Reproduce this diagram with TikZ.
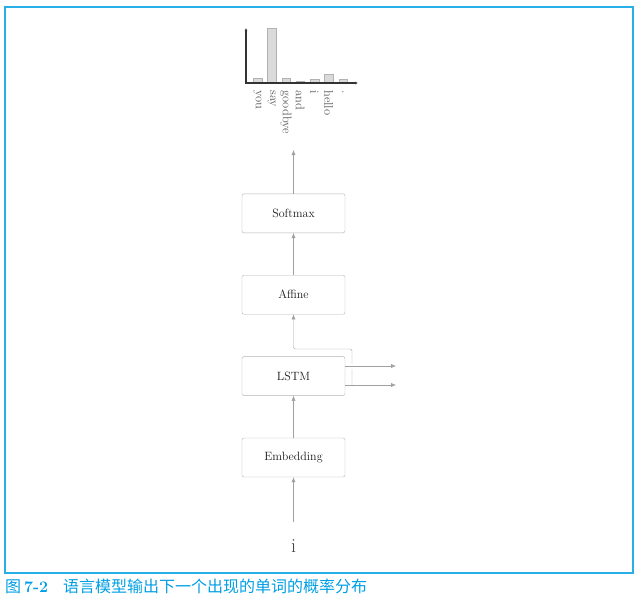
\documentclass[tikz,border=0pt]{standalone}
\usepackage{fontspec}
\newfontfamily\cjk{Noto Sans CJK SC}
\usetikzlibrary{positioning,arrows.meta}

\definecolor{capblue}{RGB}{0,158,228}
\definecolor{framblue}{RGB}{40,175,232}
\definecolor{linegray}{RGB}{160,160,160}
\definecolor{boxgray}{RGB}{178,178,178}
\definecolor{bargray}{RGB}{218,218,218}

\tikzset{
  layer/.style={draw=boxgray, rounded corners=2pt, minimum width=103pt,
    minimum height=39pt, text=black!90, font=\fontsize{12}{14}\selectfont},
  flow/.style={draw=linegray, -{Latex[length=5pt,width=4pt]}},
  wordlbl/.style={rotate=-90, anchor=west, inner sep=2pt, text=black!65,
    font=\fontsize{12.5}{13}\selectfont},
}

\begin{document}
\begin{tikzpicture}[x=1pt,y=-1pt]
	\useasboundingbox (0,0) rectangle (641,598);
	
	% rahmen
	\draw[draw=framblue, line width=1.3pt] (5,7) rectangle (633,573);
	
	% schichten
	\node[layer] (embed) at (293.5,457.5) {Embedding};
	\node[layer, above=42pt of embed] (lstm) {LSTM};
	\node[layer, above=42pt of lstm] (affine) {Affine};
	\node[layer, above=42pt of affine] (softmax) {Softmax};
	
	% eingabe
	\node[inner sep=17pt, text=black!75, font=\fontsize{20}{24}\selectfont] (word) at (293.5,546) {i};
	
	% verbindungen
	\coordinate (probs) at (293.5,150);
	\coordinate (cout) at (396,366);
	\coordinate (hout) at (396,385);
	\coordinate (split) at (352,385);
	\draw[flow] (word) -- (embed);
	\draw[flow] (embed) -- (lstm);
	\draw[flow] (affine) -- (softmax);
	\draw[flow] (softmax) -- (probs);
	\draw[flow] (lstm.east |- hout) -- (hout);
	\draw[flow, rounded corners=2pt] (split) -- ++(0,-36) -| (affine.south);
	\draw[flow, preaction={draw=white, line width=5pt, -, shorten <=3pt, shorten >=6pt}] (lstm.east |- cout) -- (cout);
	
	% balken
	\foreach \x/\h/\w [count=\i] in {257.5/5/you, 271.75/55/say, 286/5/goodbye, 300.25/2/and, 314.5/4/i, 328.75/9/hello, 343/4/.}{
		\draw[boxgray, fill=bargray] (\x-4.25,83) rectangle (\x+4.25,83-\h);
		\node[wordlbl] (lbl\i) at (\x,88) {\w};
	}
	
	% achsen
	\draw[black!80, line width=1.4pt, -{Latex[length=3pt,width=3pt]}] (246,83) -- (246,28);
	\draw[black!80, line width=1.4pt, -{Latex[length=3pt,width=3pt]}] (245.3,83) -- (358,83);
	
	% bildunterschrift
	\node[anchor=west, inner sep=0pt, text=capblue, font=\fontsize{16}{18}\selectfont\cjk] (caption) at (5,586)
		{图\hspace{3pt}{\rmfamily\bfseries 7-2}\hspace{15pt}语言模型输出下一个出现的单词的概率分布};
	
\end{tikzpicture}
\end{document}
